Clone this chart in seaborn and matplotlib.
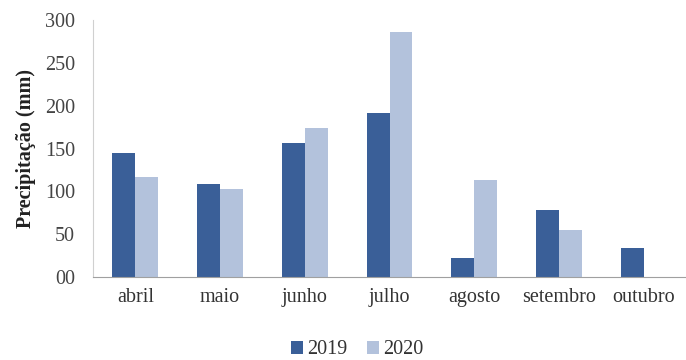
import matplotlib
matplotlib.use('Agg')
import matplotlib.pyplot as plt
import pandas as pd
import seaborn as sns

# meses e precipitação (mm)
months = ['abril', 'maio', 'junho', 'julho', 'agosto', 'setembro', 'outubro']
rain_2019 = [145, 108, 156, 191, 22, 78, 34]
rain_2020 = [117, 103, 174, 286, 113, 55, 0]
years = ['2019', '2020']
colors = ['#3A5F98', '#B3C2DC']

df = pd.DataFrame({
    'mes': months * 2,
    'ano': [years[0]] * len(months) + [years[1]] * len(months),
    'valor': rain_2019 + rain_2020,
})

sns.set_style('white')
plt.rcParams['font.family'] = ['Liberation Serif', 'DejaVu Serif']

fig = plt.figure(figsize=(6.86, 3.6), dpi=100)
ax = fig.add_axes([93 / 686, 83 / 360, 1 - 93 / 686, 257 / 360])
sns.barplot(data=df, x='mes', y='valor', hue='ano', palette=colors,
            width=0.54, saturation=1, linewidth=0, ax=ax)

ax.set_ylim(0, 300)
ax.set_yticks(range(0, 301, 50))
ax.set_yticklabels(['00', '50', '100', '150', '200', '250', '300'])
ax.set_xlim(-0.5, 6.5)
ax.set_xlabel('')
ax.set_ylabel('Precipitação (mm)', fontsize=14.5, fontweight='bold', color='#222222', labelpad=6)
ax.tick_params(axis='y', labelsize=14.5, length=0, colors='#444444', pad=13)
ax.tick_params(axis='x', labelsize=14.5, length=0, colors='#333333', pad=8)

ax.spines['right'].set_visible(False)
ax.spines['top'].set_visible(False)
ax.spines['left'].set_color('#D0D0D0')
ax.spines['bottom'].set_color('#A0A0A0')

ax.legend(loc='center', bbox_to_anchor=((357 - 93) / 593, -(350 - 277) / 257), ncol=2, frameon=False,
          fontsize=14.5, handlelength=0.6, handleheight=0.6, handletextpad=0.2,
          columnspacing=1.0, labelcolor='#333333')

plt.savefig('out.png', dpi=100)
plt.close()
